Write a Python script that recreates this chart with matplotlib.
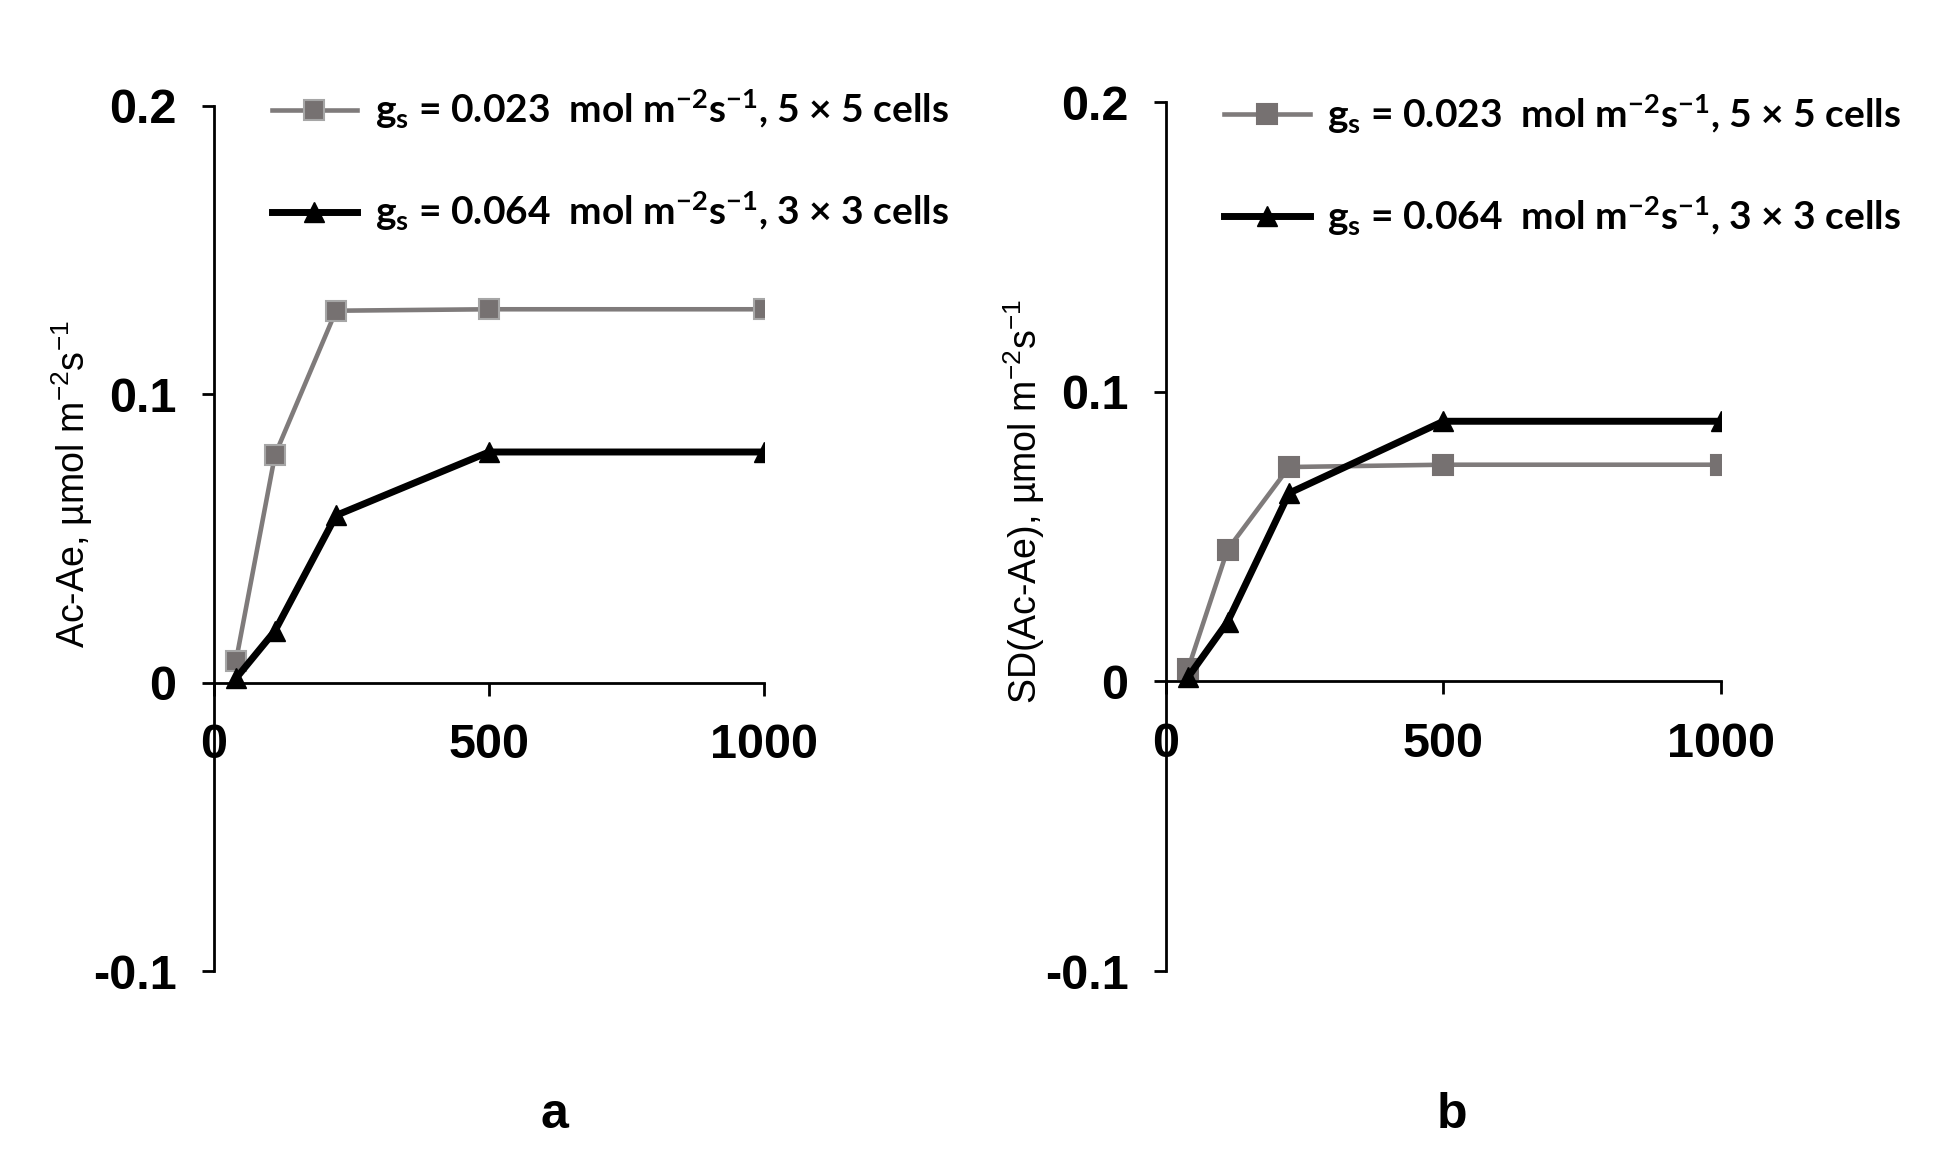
import numpy as np
import matplotlib
matplotlib.use('Agg')
import matplotlib.pyplot as plt

plt.rcParams['font.family'] = ['Liberation Sans', 'DejaVu Sans']
plt.rcParams['mathtext.default'] = 'regular'

# data
x_vals = [40, 111, 222, 500, 1000]
a_gray = [0.0075, 0.079, 0.129, 0.1295, 0.1295]
a_black = [0.0015, 0.018, 0.058, 0.080, 0.080]
b_gray = [0.0044, 0.0455, 0.074, 0.0748, 0.0748]
b_black = [0.0015, 0.0205, 0.065, 0.0898, 0.0898]

label_gray = 'g$_s$ = 0.023  mol m$^{-2}$s$^{-1}$, 5 × 5 cells'
label_black = 'g$_s$ = 0.064  mol m$^{-2}$s$^{-1}$, 3 × 3 cells'
ylabels = ['Ac-Ae, µmol m$^{-2}$s$^{-1}$', 'SD(Ac-Ae), µmol m$^{-2}$s$^{-1}$']
panel_tags = ['a', 'b']

gray_line = '#7f7b7b'
gray_face = '#767171'
legend_font = {'family': ['Lato', 'Liberation Sans'],
               'weight': 'bold', 'size': 28}

fig = plt.figure(figsize=(19.54, 11.52), dpi=100)
ax_a = fig.add_axes([0.1095, 0.1571, 0.2815, 0.7509])
ax_b = fig.add_axes([0.5967, 0.1571, 0.2840, 0.7543])

panels = [(ax_a, a_gray, a_black, '#a6a6a6', -0.216, 0.563, 1.021),
          (ax_b, b_gray, b_black, gray_face, -0.214, 0.54, 1.011)]
for i, (ax, yg, yb, edge, lx, ly, legy) in enumerate(panels):
    ax.plot(x_vals, yg, color=gray_line, lw=3.3, marker='s', ms=15,
            mfc=gray_face, mec=edge, mew=1.5, label=label_gray, zorder=3)
    ax.plot(x_vals, yb, color='black', lw=5, marker='^', ms=15,
            mfc='black', mec='black', label=label_black, zorder=4)
    ax.set_xlim(0, 1000)
    ax.set_ylim(-0.1, 0.2)
    ax.spines['top'].set_visible(False)
    ax.spines['right'].set_visible(False)
    ax.spines['bottom'].set_position(('data', 0))
    for s in ['left', 'bottom']:
        ax.spines[s].set_linewidth(2)
    ax.set_xticks([0, 500, 1000])
    ax.set_yticks([-0.1, 0, 0.1, 0.2])
    ax.set_yticklabels(['-0.1', '0', '0.1', '0.2'])
    ax.tick_params(axis='x', direction='out', length=9, width=2, pad=20,
                   labelsize=35)
    ax.tick_params(axis='y', direction='out', length=9, width=2, pad=18,
                   labelsize=35)
    for t in ax.get_xticklabels() + ax.get_yticklabels():
        t.set_fontweight('bold')
    ax.set_ylabel(ylabels[i], fontsize=27)
    ax.yaxis.set_label_coords(lx, ly)
    ax.legend(loc='upper left', bbox_to_anchor=(0.105, legy), frameon=False,
              prop=legend_font, handlelength=2.2, handletextpad=0.45,
              labelspacing=1.5, borderaxespad=0, borderpad=0)

fig.text(0.284, 0.032, panel_tags[0], ha='center', va='center',
         fontsize=36, fontweight='bold')
fig.text(0.743, 0.032, panel_tags[1], ha='center', va='center',
         fontsize=36, fontweight='bold')

fig.savefig('out.png', dpi=100)
